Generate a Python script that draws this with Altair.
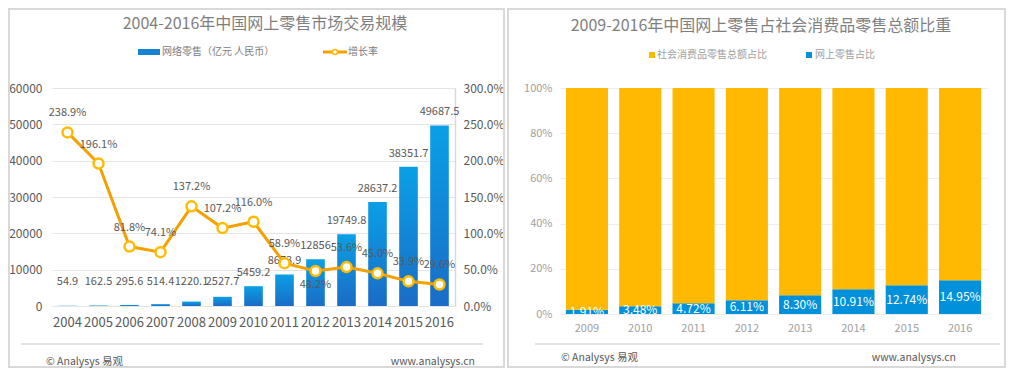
import altair as alt
import pandas as pd

FONT = "Noto Sans CJK SC"

# ---------------- data ----------------
years = [2004, 2005, 2006, 2007, 2008, 2009, 2010, 2011, 2012, 2013, 2014, 2015, 2016]
sales = [54.9, 162.5, 295.6, 514.4, 1220.1, 2527.7, 5459.2, 8673.9, 12856, 19749.8, 28637.2, 38351.7, 49687.5]
growth = [238.9, 196.1, 81.8, 74.1, 137.2, 107.2, 116.0, 58.9, 48.2, 53.6, 45.0, 33.9, 29.6]
below_label_years = ["2012"]

sales_ticks = [0, 10000, 20000, 30000, 40000, 50000, 60000]
growth_ticks = [0, 50, 100, 150, 200, 250, 300]

share_years = [2009, 2010, 2011, 2012, 2013, 2014, 2015, 2016]
online_share = [1.91, 3.48, 4.72, 6.11, 8.30, 10.91, 12.74, 14.95]
share_ticks = [0, 20, 40, 60, 80, 100]

left_title = "2004-2016年中国网上零售市场交易规模"
right_title = "2009-2016年中国网上零售占社会消费品零售总额比重"
sales_name = "网络零售（亿元 人民币）"
growth_name = "增长率"
total_name = "社会消费品零售总额占比"
online_name = "网上零售占比"
footer_left = "© Analysys 易观"
footer_right = "www.analysys.cn"

left_df = pd.DataFrame({
    "year": [str(y) for y in years],
    "sales": sales,
    "growth": growth,
})
left_df["sales_label"] = [f"{v:g}" for v in sales]
left_df["growth_label"] = [f"{v:.1f}%" for v in growth]

right_df = pd.DataFrame({
    "year": [str(y) for y in share_years] * 2,
    "series": [online_name] * len(share_years) + [total_name] * len(share_years),
    "value": online_share + [round(100 - v, 2) for v in online_share],
    "ord": [0] * len(share_years) + [1] * len(share_years),
})
online_df = pd.DataFrame({
    "year": [str(y) for y in share_years],
    "online": online_share,
    "label": [f"{v:.2f}%" for v in online_share],
})

ONE = alt.Data(values=[{"k": 1}])


def deco_text(txt, x, y, size, color, align="center"):
    return alt.Chart(ONE).mark_text(
        text=txt, align=align, baseline="middle", fontSize=size, color=color
    ).encode(x=alt.value(x), y=alt.value(y))


def deco_rect(x, x2, y, y2, **kw):
    return alt.Chart(ONE).mark_rect(**kw).encode(
        x=alt.value(x), x2=alt.value(x2), y=alt.value(y), y2=alt.value(y2)
    )


def deco_rule(x, x2, y, color, width):
    return alt.Chart(ONE).mark_rule(color=color, strokeWidth=width).encode(
        x=alt.value(x), x2=alt.value(x2), y=alt.value(y)
    )


# ---------------- left panel ----------------
LW, LH = 403, 218
dark = "#595959"
bar_grad = alt.Gradient(
    gradient="linear",
    stops=[alt.GradientStop(color="#0aa0e6", offset=0),
           alt.GradientStop(color="#1a6cc5", offset=1)],
    x1=0, x2=0, y1=0, y2=1,
)

x_axis_left = alt.Axis(labelAngle=0, labelColor=dark, labelFontSize=13, labelPadding=10,
                       domain=False, ticks=False, grid=False)
x_scale_left = alt.Scale(paddingInner=0.4, paddingOuter=0.2)

sales_scale = alt.Scale(domain=[0, 60000], nice=False)
sales_axis = alt.Axis(orient="left", values=sales_ticks, format="d", labelOverlap=False,
                      grid=True, gridColor="#e4e4e4", domain=False, ticks=False,
                      labelPadding=10, labelColor=dark, labelFontSize=12)

growth_scale = alt.Scale(domain=[0, 300], nice=False)
growth_axis = alt.Axis(orient="right", values=growth_ticks,
                       labelExpr="format(datum.value, '.1f') + '%'", labelOverlap=False,
                       grid=False, domain=True, domainColor="#d9d9d9", domainWidth=1.5,
                       ticks=False, labelPadding=8, labelColor=dark, labelFontSize=12)


def xl():
    return alt.X("year:N", title=None, scale=x_scale_left, axis=x_axis_left)


bars = alt.Chart(left_df).mark_bar(color=bar_grad).encode(
    x=xl(),
    y=alt.Y("sales:Q", title=None, scale=sales_scale, axis=sales_axis),
)
bar_text = alt.Chart(left_df).transform_calculate(
    ly="max(datum.sales, 3000)"
).mark_text(baseline="middle", dy=-13, fontSize=11, color=dark).encode(
    x=xl(),
    y=alt.Y("ly:Q", title=None, scale=sales_scale, axis=sales_axis),
    text="sales_label:N",
)


def yg():
    return alt.Y("growth:Q", title=None, scale=growth_scale, axis=growth_axis)


line = alt.Chart(left_df).mark_line(color="#f5a000", strokeWidth=3).encode(x=xl(), y=yg())
pts = alt.Chart(left_df).mark_circle(
    color="white", opacity=1, stroke="#ffbb00", strokeWidth=2.5, size=100
).encode(x=xl(), y=yg())

below_expr = "indexof([" + ",".join(f"'{y}'" for y in below_label_years) + "], datum.year)"
rate_above = alt.Chart(left_df).transform_filter(below_expr + " < 0").mark_text(
    baseline="middle", dy=-19, fontSize=11, color=dark
).encode(x=xl(), y=yg(), text="growth_label:N")
rate_below = alt.Chart(left_df).transform_filter(below_expr + " >= 0").mark_text(
    baseline="middle", dy=14, fontSize=11, color=dark
).encode(x=xl(), y=yg(), text="growth_label:N")

left_deco = [
    deco_rect(-43, 452, -79, 279, fillOpacity=0, stroke="#d9d9d9", strokeWidth=2),
    deco_text(left_title, 213, -64, 16, "#7f7f7f"),
    deco_rect(86, 108, -39, -33, color="#1583d4"),
    deco_text(sales_name, 110, -36, 10, "#808080", align="left"),
    deco_rule(271, 295, -36, "#f5a000", 3),
    alt.Chart(ONE).mark_circle(color="white", opacity=1, stroke="#ffbb00",
                               strokeWidth=1.5, size=25).encode(
        x=alt.value(283), y=alt.value(-36)),
    deco_text(growth_name, 296, -36, 10, "#808080", align="left"),
    deco_rule(-31, 431, 256, "#e3e3e3", 2),
    deco_text(footer_left, -6, 274, 10.5, dark, align="left"),
    deco_text(footer_right, 423, 274, 10.5, dark, align="right"),
]

left = alt.layer(
    *left_deco,
    alt.layer(bars, bar_text),
    alt.layer(line, pts, rate_above, rate_below),
).resolve_scale(y="independent").properties(width=LW, height=LH)

# ---------------- right panel ----------------
RW, RH = 427, 226
light = "#a0a0a0"
yellow = "#ffb900"
blue = "#0091da"

x_right = alt.X("year:N", title=None,
                scale=alt.Scale(paddingInner=0.21, paddingOuter=0.11),
                axis=alt.Axis(labelAngle=0, labelColor=light, labelFontSize=11, labelPadding=8,
                              domain=False, ticks=False, grid=False))
share_scale = alt.Scale(domain=[0, 100], nice=False)
share_axis = alt.Axis(values=share_ticks, labelExpr="datum.value + '%'", labelOverlap=False,
                      grid=True, gridColor="#ececec", domain=False, ticks=False,
                      labelPadding=8, labelColor=light, labelFontSize=11)

bars_r = alt.Chart(right_df).mark_bar().encode(
    x=x_right,
    y=alt.Y("value:Q", title=None, stack="zero", scale=share_scale, axis=share_axis),
    color=alt.Color("series:N", legend=None,
                    scale=alt.Scale(domain=[total_name, online_name], range=[yellow, blue])),
    order=alt.Order("ord:Q", sort="ascending"),
)
labels_r = alt.Chart(online_df).transform_calculate(
    mid="datum.online / 2"
).mark_text(baseline="middle", fontSize=12, color="white", clip=True).encode(
    x=x_right,
    y=alt.Y("mid:Q", title=None, scale=share_scale, axis=share_axis),
    text="label:N",
)

right_deco = [
    deco_rect(-52, 445, -79, 279, fillOpacity=0, stroke="#d9d9d9", strokeWidth=2),
    deco_text(right_title, 201, -62, 16, "#7f7f7f"),
    deco_rect(89, 95, -36, -30, color=yellow),
    deco_text(total_name, 97, -33, 10, light, align="left"),
    deco_rect(246, 252, -36, -30, color=blue),
    deco_text(online_name, 255, -33, 10, light, align="left"),
    deco_rule(-25, 440, 256, "#e3e3e3", 2),
    deco_text(footer_left, 1, 270, 10.5, dark, align="left"),
    deco_text(footer_right, 396, 270, 10.5, dark, align="right"),
]

right = alt.layer(*right_deco, bars_r, labels_r).properties(width=RW, height=RH)

chart = alt.hconcat(left, right, spacing=2).properties(padding=0).configure(
    font=FONT
).configure_axis(labelOverlap=False).configure_view(strokeWidth=0)

chart.save("out.html", embed_options={"renderer": "svg", "actions": False})
